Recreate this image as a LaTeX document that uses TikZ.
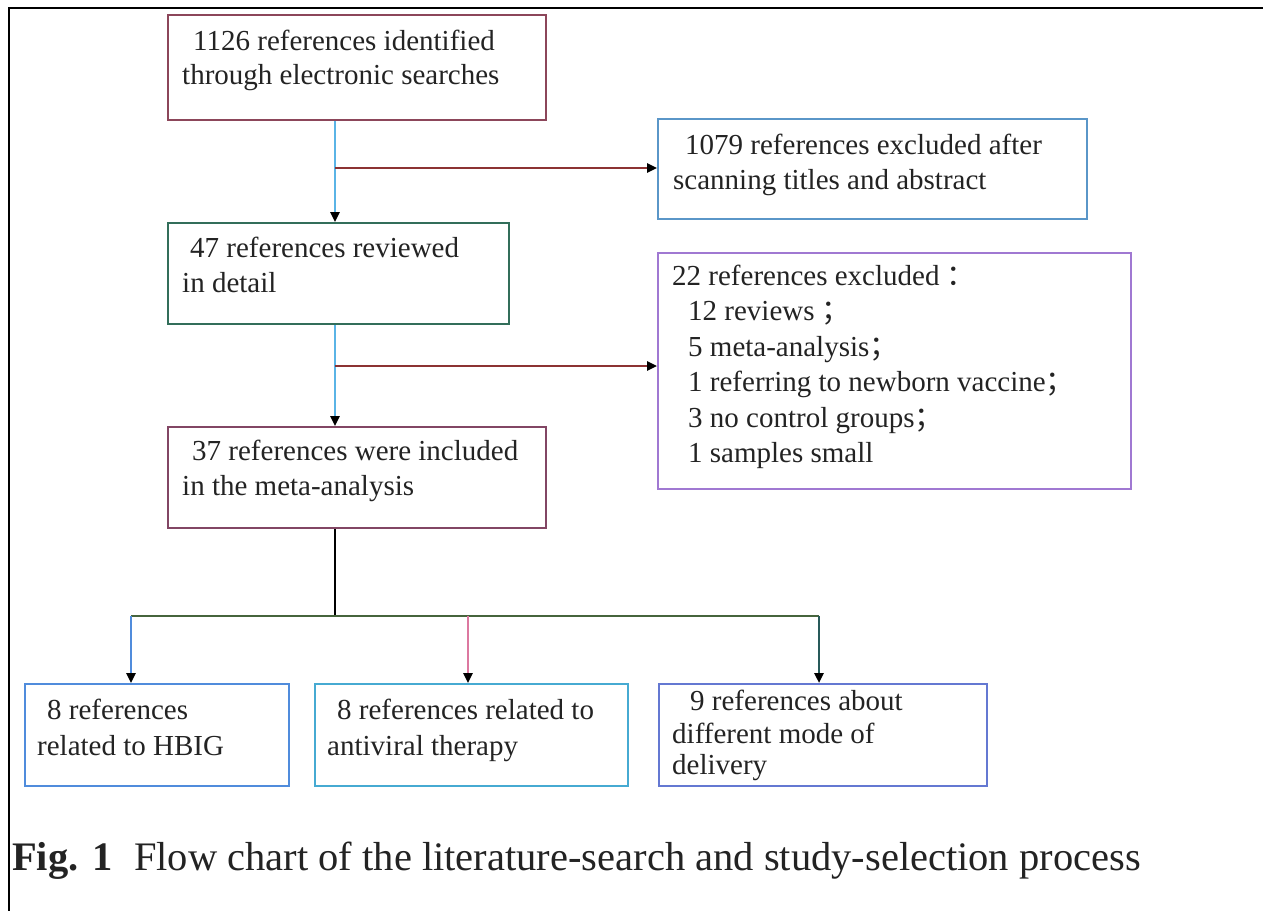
\documentclass[tikz,border=0pt]{standalone}
\usepackage{fontspec}
\setmainfont{Liberation Serif}
\newfontfamily\cjk{Noto Sans CJK SC}
\usetikzlibrary{arrows.meta}
\definecolor{boxA}{RGB}{140,70,90}
\definecolor{boxB}{RGB}{50,110,90}
\definecolor{boxC}{RGB}{90,150,200}
\definecolor{boxD}{RGB}{160,120,210}
\definecolor{boxE}{RGB}{130,70,100}
\definecolor{boxF}{RGB}{80,140,220}
\definecolor{boxG}{RGB}{70,170,210}
\definecolor{boxH}{RGB}{100,120,210}
\definecolor{lblue}{RGB}{90,180,230}
\definecolor{dred}{RGB}{140,50,50}
\definecolor{dgreen}{RGB}{70,100,60}
\definecolor{lpink}{RGB}{220,120,160}
\definecolor{dteal}{RGB}{40,90,90}
\definecolor{txtc}{RGB}{35,35,35}
\begin{document}
\begin{tikzpicture}[x=1pt,y=-1pt,
  box/.style={draw, line width=2.4pt, rectangle, inner sep=0pt, anchor=north west},
  txt/.style={anchor=base west, inner sep=0pt, font=\fontsize{29}{35}\selectfont, text=txtc},
  link/.style={line width=2.4pt},
  tip/.style={-{Triangle[length=10pt,width=9pt,color=black]}},
]
\useasboundingbox (0,0) rectangle (1263,911);
\fill[white] (0,0) rectangle (1263,911);
% frame
\draw[line width=2.5pt, black] (1263,8) -- (9,8) -- (9,911);

% boxes
\node[box, draw=boxA, minimum width=378pt, minimum height=105pt] (A) at (167,14) {};
\node[box, draw=boxC, minimum width=429pt, minimum height=100pt] (C) at (657,118) {};
\node[box, draw=boxB, minimum width=341pt, minimum height=101pt] (B) at (167,222) {};
\node[box, draw=boxD, minimum width=473pt, minimum height=236pt] (D) at (657,252) {};
\node[box, draw=boxE, minimum width=378pt, minimum height=101pt] (E) at (167,426) {};
\node[box, draw=boxF, minimum width=264pt, minimum height=102pt] (F) at (24,683) {};
\node[box, draw=boxG, minimum width=313pt, minimum height=102pt] (G) at (314,683) {};
\node[box, draw=boxH, minimum width=328pt, minimum height=102pt] (H) at (658,683) {};

% texts
\node[txt] (a1) at (193,50) {1126 references identified};
\node[txt] (a2) at (182,84) {through electronic searches};
\node[txt] (c1) at (685,154) {1079 references excluded after};
\node[txt] (c2) at (673,189) {scanning titles and abstract};
\node[txt] (b1) at (190,257) {47 references reviewed};
\node[txt] (b2) at (182,292) {in detail};
\node[txt] (d1) at (672,285) {22 references excluded {\cjk ：}};
\node[txt] (d2) at (688,320) {12 reviews {\cjk ；}};
\node[txt] (d3) at (688,356) {5 meta-analysis{\cjk ；}};
\node[txt] (d4) at (688,391) {1 referring to newborn vaccine{\cjk ；}};
\node[txt] (d5) at (688,427) {3 no control groups{\cjk ；}};
\node[txt] (d6) at (688,462) {1 samples small};
\node[txt] (e1) at (192,460) {37 references were included};
\node[txt] (e2) at (182,495) {in the meta-analysis};
\node[txt] (f1) at (47,719) {8 references};
\node[txt] (f2) at (37,755) {related to HBIG};
\node[txt] (g1) at (337,719) {8 references related to};
\node[txt] (g2) at (327,755) {antiviral therapy};
\node[txt] (h1) at (690,710) {9 references about};
\node[txt] (h2) at (672,743) {different mode of};
\node[txt] (h3) at (672,774) {delivery};

% caption
\node[anchor=base west, inner sep=0pt, font=\fontsize{40.5}{48}\selectfont\bfseries, text=txtc] (capl) at (12,870) {Fig. 1};
\node[anchor=base west, inner sep=0pt, font=\fontsize{40.5}{48}\selectfont, text=txtc] (capt) at (134,870) {Flow chart of the literature-search and study-selection process};

% junction coordinates
\coordinate (trunk) at (335,0);
\coordinate (j1) at (335,168);
\coordinate (j2) at (335,366);
\coordinate (j3) at (335,616);
\coordinate (dl) at (131,616);
\coordinate (dm) at (468,616);
\coordinate (dr) at (819,616);

% connectors
\draw[link, lblue, tip] (A.south -| trunk) -- (B.north -| trunk);
\draw[link, dred, tip] (j1) -- (j1 -| C.west);
\draw[link, lblue, tip] (B.south -| trunk) -- (E.north -| trunk);
\draw[link, dred, tip] (j2) -- (j2 -| D.west);
\draw[link, black] (E.south -| trunk) -- (j3);
\draw[link, dgreen] (dl) -- (dr);
\draw[link, boxF, tip] (dl) -- (F.north -| dl);
\draw[link, lpink, tip] (dm) -- (G.north -| dm);
\draw[link, dteal, tip] (dr) -- (H.north -| dr);
\end{tikzpicture}
\end{document}
